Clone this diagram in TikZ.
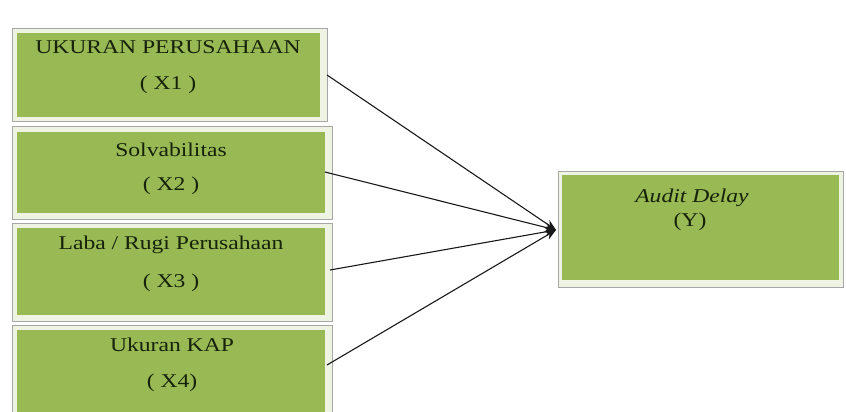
\documentclass[tikz,border=0pt]{standalone}
\usepackage{fontspec}
\setmainfont{Liberation Serif}
\usetikzlibrary{arrows.meta}
\definecolor{boxgreen}{RGB}{152,185,84}
\definecolor{framefill}{RGB}{238,243,228}
\definecolor{txt}{RGB}{22,34,10}
\tikzset{
  frame/.style={draw=black!35, line width=0.8pt, fill=framefill},
  greenbox/.style={fill=boxgreen, draw=none, inner sep=0pt},
  lbl/.style={text=txt, inner sep=0pt, font=\fontsize{19.5}{21}\selectfont},
  conn/.style={draw=black!90, line width=1.1pt, -{Stealth[length=11pt,width=9pt]}},
}
\newcommand{\widetxt}[1]{\scalebox{1.21}[1]{#1}}
\begin{document}
\begin{tikzpicture}[x=1pt,y=-1pt]
\useasboundingbox (0,0) rectangle (846,412);
\fill[white] (0,0) rectangle (846,412);
% frames
\draw[frame] (12,28) rectangle (327,121);
\draw[frame] (12,126) rectangle (332,219);
\draw[frame] (12,223) rectangle (332,321);
\draw[frame] (12,325) rectangle (332,416);
\draw[frame] (558,171) rectangle (843,287);
% green boxes
\node[greenbox, minimum width=303pt, minimum height=84pt] (x1) at (168.5,75) {};
\node[greenbox, minimum width=308pt, minimum height=81pt] (x2) at (171,172.5) {};
\node[greenbox, minimum width=308pt, minimum height=87pt] (x3) at (171,271.5) {};
\node[greenbox, minimum width=308pt, minimum height=85pt] (x4) at (171,372.5) {};
\node[greenbox, minimum width=277pt, minimum height=105pt] (y) at (700,227.5) {};
% labels
\node[lbl] (t1a) at (168,47) {\widetxt{UKURAN PERUSAHAAN}};
\node[lbl] (t1b) at (168,85) {\widetxt{( X1 )}};
\node[lbl] (t2a) at (171,150) {\widetxt{Solvabilitas}};
\node[lbl] (t2b) at (171,186) {\widetxt{( X2 )}};
\node[lbl] (t3a) at (171,245) {\widetxt{Laba / Rugi Perusahaan}};
\node[lbl] (t3b) at (171,283) {\widetxt{( X3 )}};
\node[lbl] (t4a) at (172,345) {\widetxt{Ukuran KAP}};
\node[lbl] (t4b) at (172,383) {\widetxt{( X4)}};
\node[lbl] (ya) at (692,198) {\widetxt{\itshape Audit Delay}};
\node[lbl] (yb) at (690,222) {\widetxt{(Y)}};
% connectors
\coordinate (tip) at (556,230);
\coordinate (s1) at (327,75);
\coordinate (s2) at (325,172);
\coordinate (s3) at (330,270);
\coordinate (s4) at (327,365);
\draw[conn] (s1) -- (tip);
\draw[conn] (s2) -- (tip);
\draw[conn] (s3) -- (tip);
\draw[conn] (s4) -- (tip);
\end{tikzpicture}
\end{document}
